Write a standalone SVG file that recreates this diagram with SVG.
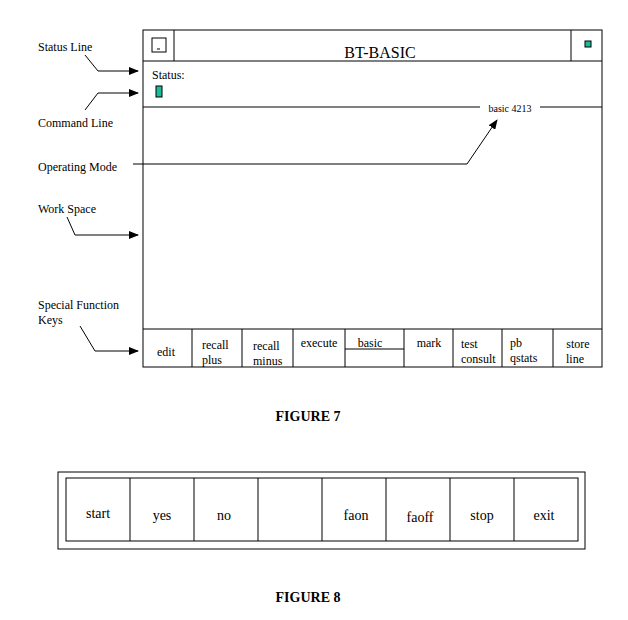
<svg xmlns="http://www.w3.org/2000/svg" width="628" height="620" viewBox="0 0 628 620">
<style>
text{font-family:"Liberation Serif",serif;fill:#000}
.s{font-size:12px}.k{font-size:12px}
.ln{stroke:#000;stroke-width:1;fill:none}
</style>
<defs><marker id="a" markerWidth="10" markerHeight="8" refX="9" refY="4" orient="auto" markerUnits="userSpaceOnUse"><path d="M0,0 L10,4 L0,8 z" fill="#000"/></marker></defs>
<rect width="628" height="620" fill="#fff"/>
<g id="window">
<rect x="143" y="30" width="459" height="337" class="ln"/>
<line x1="143" y1="61" x2="602" y2="61" class="ln"/>
<line x1="174" y1="30" x2="174" y2="61" class="ln"/>
<line x1="571" y1="30" x2="571" y2="61" class="ln"/>
<rect x="152" y="38" width="14" height="14" class="ln"/>
<line x1="157" y1="49" x2="160" y2="49" class="ln"/>
<rect x="585" y="41" width="6" height="6" fill="#1abc9c" stroke="#000"/>
<text x="380" y="58" font-size="16" text-anchor="middle">BT-BASIC</text>
<text x="152" y="79" class="s">Status:</text>
<rect x="156" y="86" width="6" height="11" fill="#1abc9c" stroke="#000"/>
<line x1="143" y1="107" x2="480" y2="107" class="ln"/>
<line x1="540" y1="107" x2="602" y2="107" class="ln"/>
<text x="510" y="112" font-size="10" text-anchor="middle">basic 4213</text>
</g>
<g id="keys">
<line x1="143" y1="329" x2="602" y2="329" class="ln"/>
<g class="ln"><line x1="192" y1="329" x2="192" y2="367"/><line x1="242" y1="329" x2="242" y2="367"/><line x1="293" y1="329" x2="293" y2="367"/><line x1="345" y1="329" x2="345" y2="367"/><line x1="404" y1="329" x2="404" y2="367"/><line x1="453" y1="329" x2="453" y2="367"/><line x1="502" y1="329" x2="502" y2="367"/><line x1="553" y1="329" x2="553" y2="367"/><line x1="345" y1="349" x2="404" y2="349"/></g>
<text x="166" y="356" class="k" text-anchor="middle">edit</text>
<text x="202" y="349" class="k">recall</text><text x="202" y="364" class="k">plus</text>
<text x="253" y="350" class="k">recall</text><text x="253" y="365" class="k">minus</text>
<text x="319" y="347" class="k" text-anchor="middle">execute</text>
<text x="370" y="347" class="k" text-anchor="middle">basic</text>
<text x="429" y="347" class="k" text-anchor="middle">mark</text>
<text x="461" y="348" class="k">test</text><text x="461" y="363" class="k">consult</text>
<text x="510" y="347" class="k">pb</text><text x="510" y="362" class="k">qstats</text>
<text x="578" y="348" class="k" text-anchor="middle">store</text><text x="566" y="363" class="k">line</text>
</g>
<g id="labels" class="s">
<text x="38" y="51" class="s">Status Line</text>
<text x="38" y="127" class="s">Command Line</text>
<text x="38" y="171" class="s">Operating Mode</text>
<text x="38" y="213" class="s">Work Space</text>
<text x="38" y="309" class="s">Special Function</text>
<text x="38" y="324" class="s">Keys</text>
</g>
<g id="connectors" class="ln">
<polyline points="85,55 98,71 138,71" marker-end="url(#a)"/>
<polyline points="85,110 98,93 138,93" marker-end="url(#a)"/>
<polyline points="133,164 467,164 497,120" marker-end="url(#a)"/>
<polyline points="67,217 75,235 138,235" marker-end="url(#a)"/>
<polyline points="80,326 95,351 138,351" marker-end="url(#a)"/>
</g>
<text x="308" y="421" font-size="14" font-weight="bold" text-anchor="middle">FIGURE 7</text>
<g id="fig8">
<rect x="58" y="472" width="527" height="77" class="ln"/>
<rect x="66" y="478" width="512" height="63" class="ln"/>
<g class="ln"><line x1="130" y1="478" x2="130" y2="541"/><line x1="194" y1="478" x2="194" y2="541"/><line x1="258" y1="478" x2="258" y2="541"/><line x1="322" y1="478" x2="322" y2="541"/><line x1="386" y1="478" x2="386" y2="541"/><line x1="450" y1="478" x2="450" y2="541"/><line x1="514" y1="478" x2="514" y2="541"/></g>
<text x="98" y="518" font-size="14" text-anchor="middle">start</text>
<text x="162" y="520" font-size="14" text-anchor="middle">yes</text>
<text x="224" y="520" font-size="14" text-anchor="middle">no</text>
<text x="356" y="520" font-size="14" text-anchor="middle">faon</text>
<text x="420" y="522" font-size="14" text-anchor="middle">faoff</text>
<text x="482" y="520" font-size="14" text-anchor="middle">stop</text>
<text x="544" y="520" font-size="14" text-anchor="middle">exit</text>
</g>
<text x="308" y="602" font-size="14" font-weight="bold" text-anchor="middle">FIGURE 8</text>
</svg>
